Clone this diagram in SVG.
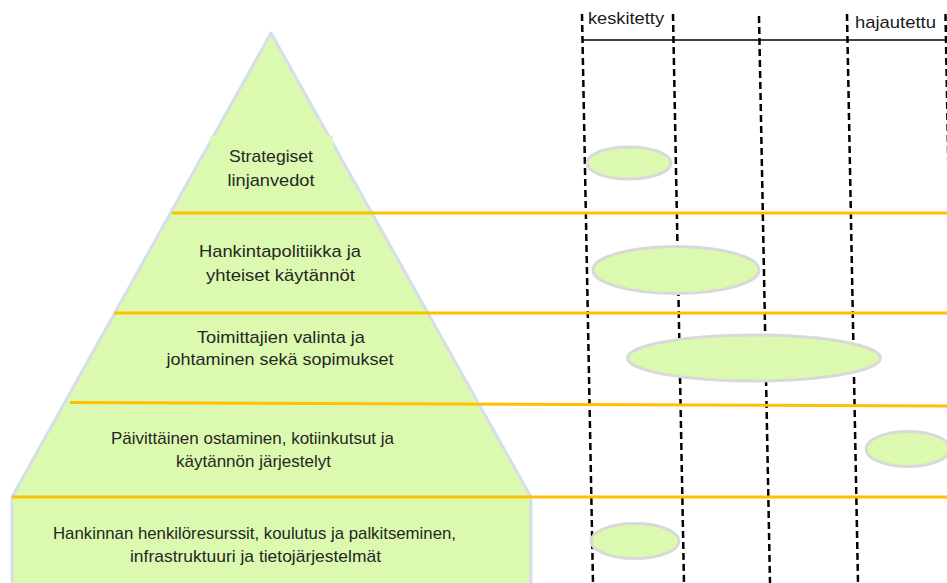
<svg xmlns="http://www.w3.org/2000/svg" width="947" height="583" viewBox="0 0 947 583">
<style>
.t{font-family:"Liberation Sans",Arial,sans-serif;font-size:17px;fill:#262626;text-anchor:middle}
.h{font-family:"Liberation Sans",Arial,sans-serif;font-size:17px;fill:#1a1a1a}
.band{stroke:#FFC000;stroke-width:3;fill:none}
.dash{stroke:#000;stroke-width:2.5;stroke-dasharray:7 4;fill:none}
.ell{fill:#DBFAAF;stroke:#D9D9D9;stroke-width:3}
</style>
<rect width="947" height="583" fill="#fff"/>
<g id="pyramid">
<path d="M271,33 L12,497 L12,590 L531,590 L531,497 Z" fill="#DBFAAF" stroke="#D6DEEC" stroke-width="3" stroke-linejoin="round"/>
<rect x="210" y="136" width="123" height="60" fill="#DBFAAF"/>
</g>
<g id="axis">
<g id="connectors">
<line class="dash" x1="582" y1="14" x2="593" y2="583"/>
<line class="dash" x1="673" y1="14" x2="684" y2="583"/>
<line class="dash" x1="759" y1="16" x2="770" y2="583"/>
<line class="dash" x1="847" y1="14" x2="858" y2="583"/>
<line class="dash" x1="945.5" y1="14" x2="956" y2="583"/>
<line x1="582" y1="40" x2="947" y2="40" stroke="#000" stroke-width="1.6"/>
<line class="band" x1="172" y1="213" x2="947" y2="213"/>
<line class="band" x1="114" y1="313" x2="947" y2="313"/>
<line class="band" x1="70" y1="402.5" x2="947" y2="406"/>
<line class="band" x1="12" y1="497" x2="947" y2="497"/>
</g>
<text class="h" x="588" y="24" textLength="76" lengthAdjust="spacingAndGlyphs">keskitetty</text>
<text class="h" x="855" y="28" textLength="81" lengthAdjust="spacingAndGlyphs">hajautettu</text>
</g>
<g id="level1">
<text class="t" x="271" y="162" textLength="84" lengthAdjust="spacingAndGlyphs">Strategiset</text>
<text class="t" x="271" y="186" textLength="87" lengthAdjust="spacingAndGlyphs">linjanvedot</text>
<ellipse class="ell" cx="629" cy="163" rx="42" ry="16"/>
</g>
<g id="level2">
<text class="t" x="280" y="257" textLength="162" lengthAdjust="spacingAndGlyphs">Hankintapolitiikka ja</text>
<text class="t" x="280.5" y="281" textLength="149" lengthAdjust="spacingAndGlyphs">yhteiset käytännöt</text>
<ellipse class="ell" cx="676" cy="270" rx="83" ry="23.5"/>
</g>
<g id="level3">
<text class="t" x="281" y="343" textLength="168" lengthAdjust="spacingAndGlyphs">Toimittajien valinta ja</text>
<text class="t" x="280" y="365" textLength="227" lengthAdjust="spacingAndGlyphs">johtaminen sekä sopimukset</text>
<ellipse class="ell" cx="754" cy="358" rx="126.5" ry="23"/>
</g>
<g id="level4">
<text class="t" x="252.5" y="444" textLength="283" lengthAdjust="spacingAndGlyphs">Päivittäinen ostaminen, kotiinkutsut ja</text>
<text class="t" x="253.5" y="467" textLength="155" lengthAdjust="spacingAndGlyphs">käytännön järjestelyt</text>
<ellipse class="ell" cx="908" cy="449" rx="42" ry="17.5"/>
</g>
<g id="level5">
<text class="t" x="254.5" y="539" textLength="403" lengthAdjust="spacingAndGlyphs">Hankinnan henkilöresurssit, koulutus ja palkitseminen,</text>
<text class="t" x="255.5" y="562" textLength="251" lengthAdjust="spacingAndGlyphs">infrastruktuuri ja tietojärjestelmät</text>
<ellipse class="ell" cx="635" cy="541" rx="44" ry="17.5"/>
</g>
</svg>
